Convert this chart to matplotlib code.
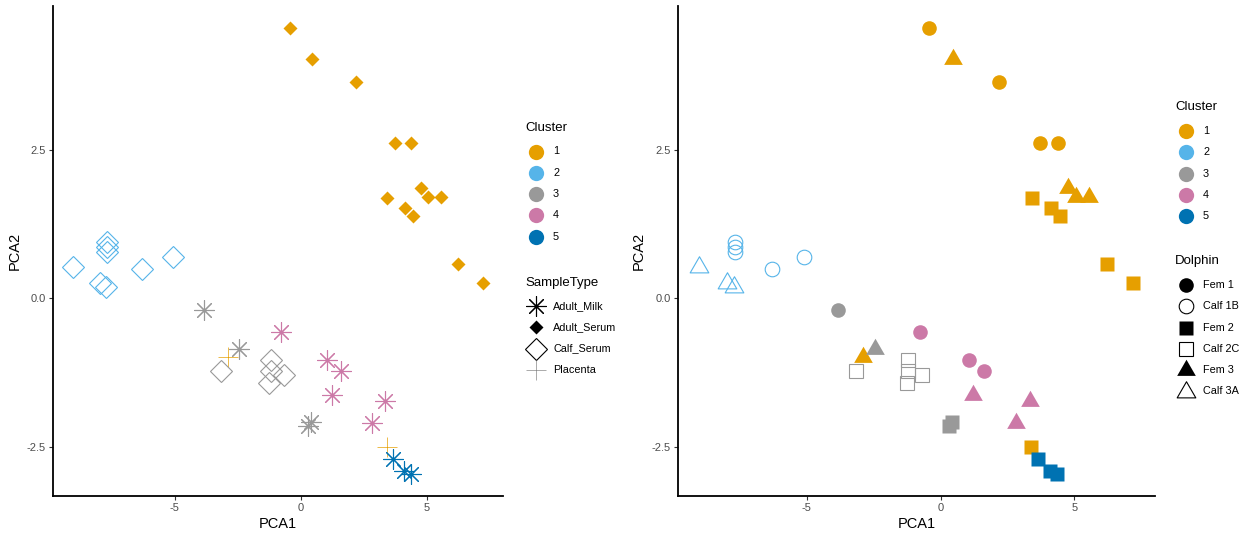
import matplotlib
matplotlib.use('Agg')
import matplotlib.pyplot as plt
from matplotlib.lines import Line2D
from matplotlib.path import Path

plt.rcParams['font.family'] = ['Liberation Sans', 'DejaVu Sans']

pc1 = [-0.42, 0.46, 2.19, 3.72, 4.39, 4.76, 3.43, 5.06, 5.56, 4.14, 4.47, 6.24, 7.21, -2.89, 3.40,
       -9.02, -7.69, -7.69, -7.69, -7.98, -7.74, -6.32, -5.09,
       -3.85, -2.47, 0.30, 0.42, -3.15, -1.20, -1.20, -1.27, -0.68,
       -0.77, 1.05, 1.61, 1.23, 3.35, 2.81,
       3.65, 4.09, 4.37]
pc2 = [4.54, 4.03, 3.64, 2.61, 2.61, 1.86, 1.68, 1.70, 1.71, 1.52, 1.38, 0.57, 0.25, -0.98, -2.50,
       0.52, 0.94, 0.86, 0.78, 0.26, 0.19, 0.50, 0.70,
       -0.20, -0.85, -2.14, -2.08, -1.23, -1.04, -1.22, -1.43, -1.29,
       -0.56, -1.03, -1.22, -1.62, -1.73, -2.09,
       -2.70, -2.91, -2.95]
cluster = [1] * 15 + [2] * 8 + [3] * 9 + [4] * 6 + [5] * 3
sample_type = (['Adult_Serum'] * 13 + ['Placenta'] * 2 + ['Calf_Serum'] * 8
               + ['Adult_Milk'] * 4 + ['Calf_Serum'] * 5 + ['Adult_Milk'] * 9)
dolphin = (['Fem 1', 'Fem 3', 'Fem 1', 'Fem 1', 'Fem 1', 'Fem 3', 'Fem 2', 'Fem 3', 'Fem 3',
            'Fem 2', 'Fem 2', 'Fem 2', 'Fem 2', 'Fem 3', 'Fem 2']
           + ['Calf 3A', 'Calf 1B', 'Calf 1B', 'Calf 1B', 'Calf 3A', 'Calf 3A', 'Calf 1B', 'Calf 1B']
           + ['Fem 1', 'Fem 3', 'Fem 2', 'Fem 2'] + ['Calf 2C'] * 5
           + ['Fem 1'] * 3 + ['Fem 3'] * 3 + ['Fem 2'] * 3)

cluster_levels = [1, 2, 3, 4, 5]
type_levels = ['Adult_Milk', 'Adult_Serum', 'Calf_Serum', 'Placenta']
dolphin_levels = ['Fem 1', 'Calf 1B', 'Fem 2', 'Calf 2C', 'Fem 3', 'Calf 3A']

cb = {1: '#E69F00', 2: '#56B4E9', 3: '#999999', 4: '#CC79A7', 5: '#0072B2'}

# equilateral triangle like ggplot's shape 2 / 17
tri = Path([(-1, -0.5774), (1, -0.5774), (0, 1.1547), (-1, -0.5774)], closed=True)

# marker, size, filled, edge width
type_style = {'Adult_Milk': ((8, 2, 0), 14.5, False, 0.8),
              'Adult_Serum': ('D', 7.5, True, 0),
              'Calf_Serum': ('D', 11.5, False, 0.8),
              'Placenta': ('+', 14.5, False, 0.5)}
dolphin_style = {'Fem 1': ('o', 10.5, True), 'Calf 1B': ('o', 10.5, False),
                 'Fem 2': ('s', 10, True), 'Calf 2C': ('s', 10, False),
                 'Fem 3': (tri, 15.5, True), 'Calf 3A': (tri, 15.5, False)}

W, H = 1249, 533
fig = plt.figure(figsize=(W / 100, H / 100), dpi=100)
ax1 = fig.add_axes([53 / W, 37 / H, 450 / W, 490 / H])
ax2 = fig.add_axes([677.7 / W, 37 / H, 477.3 / W, 490 / H])

# ggplot-style 5% expansion
xr = max(pc1) - min(pc1)
yr = max(pc2) - min(pc2)
xlim = (min(pc1) - 0.05 * xr, max(pc1) + 0.05 * xr)
ylim = (min(pc2) - 0.05 * yr, max(pc2) + 0.05 * yr)


def marker_kw(m, s, filled, lw, color):
    if filled:
        return dict(marker=m, ms=s, color=color, mec='none', ls='none')
    return dict(marker=m, ms=s, mfc='none', mec=color, mew=lw, ls='none')


for x, y, c, t in zip(pc1, pc2, cluster, sample_type):
    m, s, filled, lw = type_style[t]
    ax1.plot(x, y, **marker_kw(m, s, filled, lw, cb[c]))

for x, y, c, d in zip(pc1, pc2, cluster, dolphin):
    m, s, filled = dolphin_style[d]
    ax2.plot(x, y, **marker_kw(m, s, filled, 0.8, cb[c]))

for ax in (ax1, ax2):
    ax.set_xlim(xlim)
    ax.set_ylim(ylim)
    ax.set_xticks([-5, 0, 5])
    ax.set_yticks([-2.5, 0.0, 2.5])
    ax.set_xticklabels(['-5', '0', '5'])
    ax.set_yticklabels(['-2.5', '0.0', '2.5'])
    ax.spines['top'].set_visible(False)
    ax.spines['right'].set_visible(False)
    for sp in ('left', 'bottom'):
        ax.spines[sp].set_linewidth(1.3)
    ax.tick_params(length=3, width=0.8, color='#333333', labelsize=8,
                   labelcolor='#4D4D4D', pad=2)
    ax.set_xlabel('PCA1', fontsize=10.5, labelpad=3)
    ax.set_ylabel('PCA2', fontsize=10.5, labelpad=4)


def legend_block(title, labels, styles, x, y_title, y_first, step=21.3):
    # x, y in pixels from the top-left corner of the figure
    fig.text(x / W, 1 - y_title / H, title, fontsize=9.5, va='center', ha='left')
    for i, (lab, kw) in enumerate(zip(labels, styles)):
        yy = 1 - (y_first + i * step) / H
        fig.add_artist(Line2D([(x + 11) / W], [yy], transform=fig.transFigure, **kw))
        fig.text((x + 28) / W, yy, lab, fontsize=7.8, va='center', ha='left')


cluster_kw = [marker_kw('o', 11, True, 0, cb[c]) for c in cluster_levels]
type_kw = [marker_kw(*type_style[t][:3], type_style[t][3], 'black') for t in type_levels]
type_kw[3]['mec'] = '#888888'
dolphin_kw = [marker_kw(*dolphin_style[d], 0.8, 'black') for d in dolphin_levels]

legend_block('Cluster', [str(c) for c in cluster_levels], cluster_kw, 525, 128, 151.5)
legend_block('SampleType', type_levels, type_kw, 525, 283, 306)
legend_block('Cluster', [str(c) for c in cluster_levels], cluster_kw, 1175, 107, 131)
legend_block('Dolphin', dolphin_levels, dolphin_kw, 1175, 261, 285)

fig.savefig('out.png', dpi=100)
